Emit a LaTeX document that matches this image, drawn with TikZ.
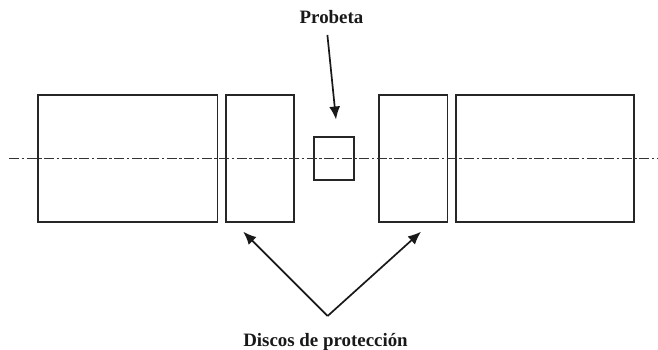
\documentclass[tikz,border=0pt]{standalone}
\usepackage{fontspec}
\setmainfont{Liberation Serif}
\usetikzlibrary{arrows.meta}
\tikzset{
  block/.style={draw=black!85,line width=1.9pt,minimum width=#1,inner sep=0pt,outer sep=0pt,anchor=north west},
  label/.style={font=\fontsize{18.9}{20}\selectfont\bfseries,text=black!90,inner sep=0pt},
  pointer/.style={draw=black!90,line width=1.7pt,-{Latex[length=13pt,width=11pt]},shorten >=0pt},
  axis/.style={draw=black!80,line width=.85pt,dash pattern=on 10pt off 2.5pt on 2.5pt off 2.5pt}
}
\begin{document}
\begin{tikzpicture}[x=1pt,y=-1pt]
\useasboundingbox (0,0) rectangle (658,349);
\node[block=179.5pt,minimum height=127.5pt] (b1) at (38,94.8) {};
\node[block=68.5pt,minimum height=127.5pt] (b2) at (225.6,94.8) {};
\node[block=40pt,minimum height=43pt] (spec) at (313.8,137) {};
\node[block=68.5pt,minimum height=127.5pt] (b3) at (379,94.8) {};
\node[block=178.5pt,minimum height=127.5pt] (b4) at (455.7,94.8) {};
\coordinate (axL) at (9,158.4);
\coordinate (axR) at (658,158.4);
\draw[axis] (axL) -- (axR);
\node[label] (probeta) at (331.5,17) {Probeta};
\node[label] (discos) at (325.5,341.5) {Discos de protección};
\coordinate (pStart) at (327.4,35);
\coordinate (pTip) at (336,119.5);
\coordinate (apex) at (327.6,316);
\coordinate (tipL) at (243.3,231.7);
\coordinate (tipR) at (421,231.7);
\draw[pointer] (pStart) -- (pTip);
\draw[pointer] (apex) -- (tipL);
\draw[pointer] (apex) -- (tipR);
\end{tikzpicture}
\end{document}
